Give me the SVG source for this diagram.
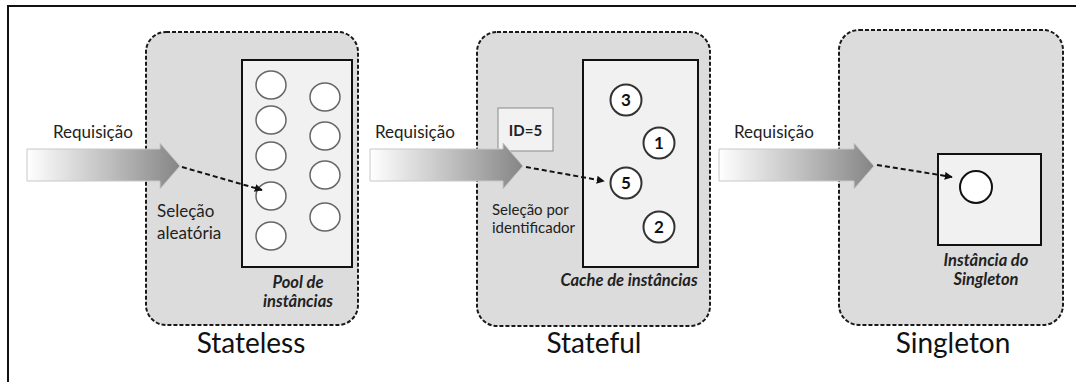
<svg xmlns="http://www.w3.org/2000/svg" width="1076" height="382" viewBox="0 0 1076 382">
  <style>
    text { font-family: Lato, "Open Sans", "Liberation Sans", sans-serif; fill: #222; }
    .panel { fill: #dcdcdc; stroke: #1a1a1a; stroke-width: 2; stroke-dasharray: 4 2; }
    .store { fill: #f1f1f1; stroke: #111; stroke-width: 2; }
    .inst { fill: #fff; stroke: #666; stroke-width: 1.5; }
    .inst-id { fill: #fff; stroke: #333; stroke-width: 2; }
    .num { font-size: 17px; font-weight: bold; text-anchor: middle; fill: #111; }
    .req { font-size: 17px; }
    .note { font-size: 17px; }
    .note-sm { font-size: 15px; }
    .cap { font-size: 16.5px; font-weight: bold; font-style: italic; text-anchor: middle; }
    .title { font-size: 28px; text-anchor: middle; fill: #111; }
    .flow { fill: url(#fade); stroke: #c8c8c8; stroke-width: 1; }
    .pick { fill: none; stroke: #111; stroke-width: 2; stroke-dasharray: 5 3; marker-end: url(#tip); }
  </style>
  <defs>
    <linearGradient id="fade" x1="0" y1="0" x2="1" y2="0">
      <stop offset="0" stop-color="#ffffff"/>
      <stop offset="0.55" stop-color="#bdbdbd"/>
      <stop offset="1" stop-color="#858585"/>
    </linearGradient>
    <marker id="tip" viewBox="0 0 10 10" refX="9" refY="5" markerWidth="4" markerHeight="4" orient="auto" markerUnits="strokeWidth">
      <path d="M0,0 L10,5 L0,10 z" fill="#111"/>
    </marker>
  </defs>

  <rect x="0" y="0" width="1076" height="382" fill="#fff"/>
  <!-- outer frame -->
  <rect x="8" y="6" width="1080" height="400" fill="none" stroke="#111" stroke-width="2"/>

  <!-- Stateless -->
  <g id="stateless">
    <rect class="panel" x="146" y="32" width="212" height="293" rx="20"/>
    <rect class="store" x="242" y="60" width="110" height="207"/>
    <ellipse class="inst" cx="271" cy="85" rx="15" ry="14"/>
    <ellipse class="inst" cx="271" cy="120" rx="15" ry="14"/>
    <ellipse class="inst" cx="271" cy="156" rx="15" ry="14"/>
    <ellipse class="inst" cx="271" cy="196" rx="15" ry="14"/>
    <ellipse class="inst" cx="271" cy="236" rx="15" ry="14"/>
    <ellipse class="inst" cx="325" cy="97" rx="15" ry="14"/>
    <ellipse class="inst" cx="325" cy="136" rx="15" ry="14"/>
    <ellipse class="inst" cx="325" cy="175" rx="15" ry="14"/>
    <ellipse class="inst" cx="325" cy="217" rx="15" ry="14"/>
    <text class="note" x="157" y="217">Seleção</text>
    <text class="note" x="157" y="239">aleatória</text>
    <text class="cap" x="298" y="288">Pool de</text>
    <text class="cap" x="298" y="307">instâncias</text>
    <text class="title" x="251" y="353">Stateless</text>
  </g>

  <!-- Stateful -->
  <g id="stateful">
    <rect class="panel" x="477" y="32" width="233" height="294" rx="20"/>
    <rect class="store" x="583" y="60" width="115" height="207"/>
    <rect x="498" y="108" width="55" height="43" fill="#f2f2f2" stroke="#8a8a8a" stroke-width="1"/>
    <text x="525.5" y="136" font-size="15" font-weight="bold" text-anchor="middle" fill="#111">ID=5</text>
    <circle class="inst-id" cx="626" cy="100" r="15.5"/>
    <text class="num" x="626" y="106">3</text>
    <circle class="inst-id" cx="659" cy="143" r="15.5"/>
    <text class="num" x="659" y="149">1</text>
    <circle class="inst-id" cx="626" cy="183" r="15.5"/>
    <text class="num" x="626" y="189">5</text>
    <circle class="inst-id" cx="659" cy="227" r="15.5"/>
    <text class="num" x="659" y="233">2</text>
    <text class="note-sm" x="492" y="215">Seleção por</text>
    <text class="note-sm" x="492" y="233">identificador</text>
    <text class="cap" x="629" y="286">Cache de instâncias</text>
    <text class="title" x="594" y="353">Stateful</text>
  </g>

  <!-- Singleton -->
  <g id="singleton">
    <rect class="panel" x="839" y="30" width="224" height="295" rx="20"/>
    <rect class="store" x="938" y="154" width="103" height="91"/>
    <circle cx="976" cy="187" r="16" fill="#fff" stroke="#111" stroke-width="2"/>
    <text class="cap" x="986" y="266">Instância do</text>
    <text class="cap" x="986" y="285">Singleton</text>
    <text class="title" x="953" y="353">Singleton</text>
  </g>

  <!-- incoming requests and instance selection -->
  <g id="connectors">
    <path class="flow" d="M27,149 H160 V143 L180,166 L160,189 V181 H27 Z"/>
    <text class="req" x="53" y="138">Requisição</text>
    <path class="flow" d="M370,149 H503 V143 L523,166 L503,189 V181 H370 Z"/>
    <text class="req" x="375" y="138">Requisição</text>
    <path class="flow" d="M719,149 H854 V143 L874,166 L854,189 V181 H719 Z"/>
    <text class="req" x="734" y="138">Requisição</text>

    <line class="pick" x1="182" y1="167" x2="262" y2="190"/>
    <line class="pick" x1="526" y1="167" x2="604" y2="181"/>
    <line class="pick" x1="877" y1="165" x2="952" y2="177"/>
  </g>
</svg>
